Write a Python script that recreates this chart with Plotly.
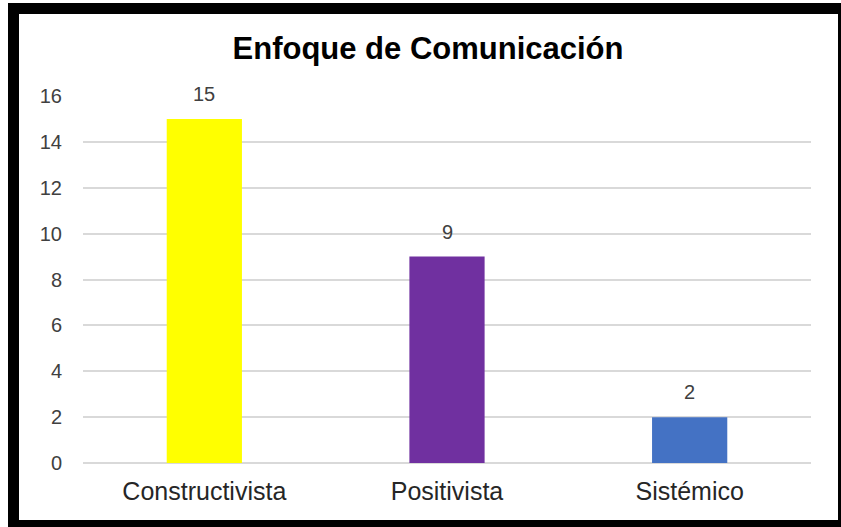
import plotly.graph_objects as go

categories = ["Constructivista", "Positivista", "Sistémico"]
values = [15, 9, 2]
bar_colors = ["#FFFF00", "#7030A0", "#4472C4"]
y_ticks = [0, 2, 4, 6, 8, 10, 12, 14, 16]
title_text = "Enfoque de Comunicación"

W, H = 841, 527
L, R, T, B = 83, 30, 96, 64
pw = W - L - R
ph = H - T - B

def px_x(p):
    return (p - L) / pw

def px_y(p):
    return (H - B - p) / ph

fig = go.Figure()
fig.add_trace(go.Bar(
    x=categories, y=values,
    marker=dict(color=bar_colors, line=dict(width=0)),
    width=0.31,
    hoverinfo="x+y",
    cliponaxis=False,
))

for c, v in zip(categories, values):
    fig.add_annotation(x=c, y=v, text=str(v), showarrow=False,
                       yanchor="bottom", yshift=12,
                       font=dict(family="Liberation Sans, Arial", size=20, color="#404040"))

# outer black frame
fig.add_shape(type="rect", xref="paper", yref="paper",
              x0=px_x(13.5), x1=px_x(843.5), y0=px_y(525.5), y1=px_y(8.5),
              line=dict(color="black", width=11), fillcolor="rgba(0,0,0,0)", layer="above")

fig.update_layout(
    width=W, height=H,
    margin=dict(l=L, r=R, t=T, b=B),
    paper_bgcolor="white", plot_bgcolor="white",
    showlegend=False,
    title=dict(text=f"<b>{title_text}</b>", xref="container", x=428 / W, xanchor="center",
               y=1 - 48 / H, yanchor="middle",
               font=dict(family="Liberation Sans, Arial", size=31, color="black")),
    xaxis=dict(showgrid=False, showline=False, ticks="", zeroline=False,
               tickfont=dict(family="Liberation Sans, Arial", size=25, color="#262626"),
               ticklabelstandoff=11),
    yaxis=dict(range=[0, 16], tickvals=y_ticks, ticktext=[str(t) for t in y_ticks],
               showgrid=True, gridcolor="#D9D9D9", gridwidth=1.5,
               zeroline=True, zerolinecolor="#D9D9D9", zerolinewidth=1.5,
               showline=False, ticks="",
               tickfont=dict(family="Liberation Sans, Arial", size=20, color="#404040"),
               ticklabelstandoff=20),
    bargap=0.69,
)

fig.write_html("out.html", config={"displayModeBar": False},
               post_script="document.body.style.margin='0';document.body.style.overflow='hidden';")
